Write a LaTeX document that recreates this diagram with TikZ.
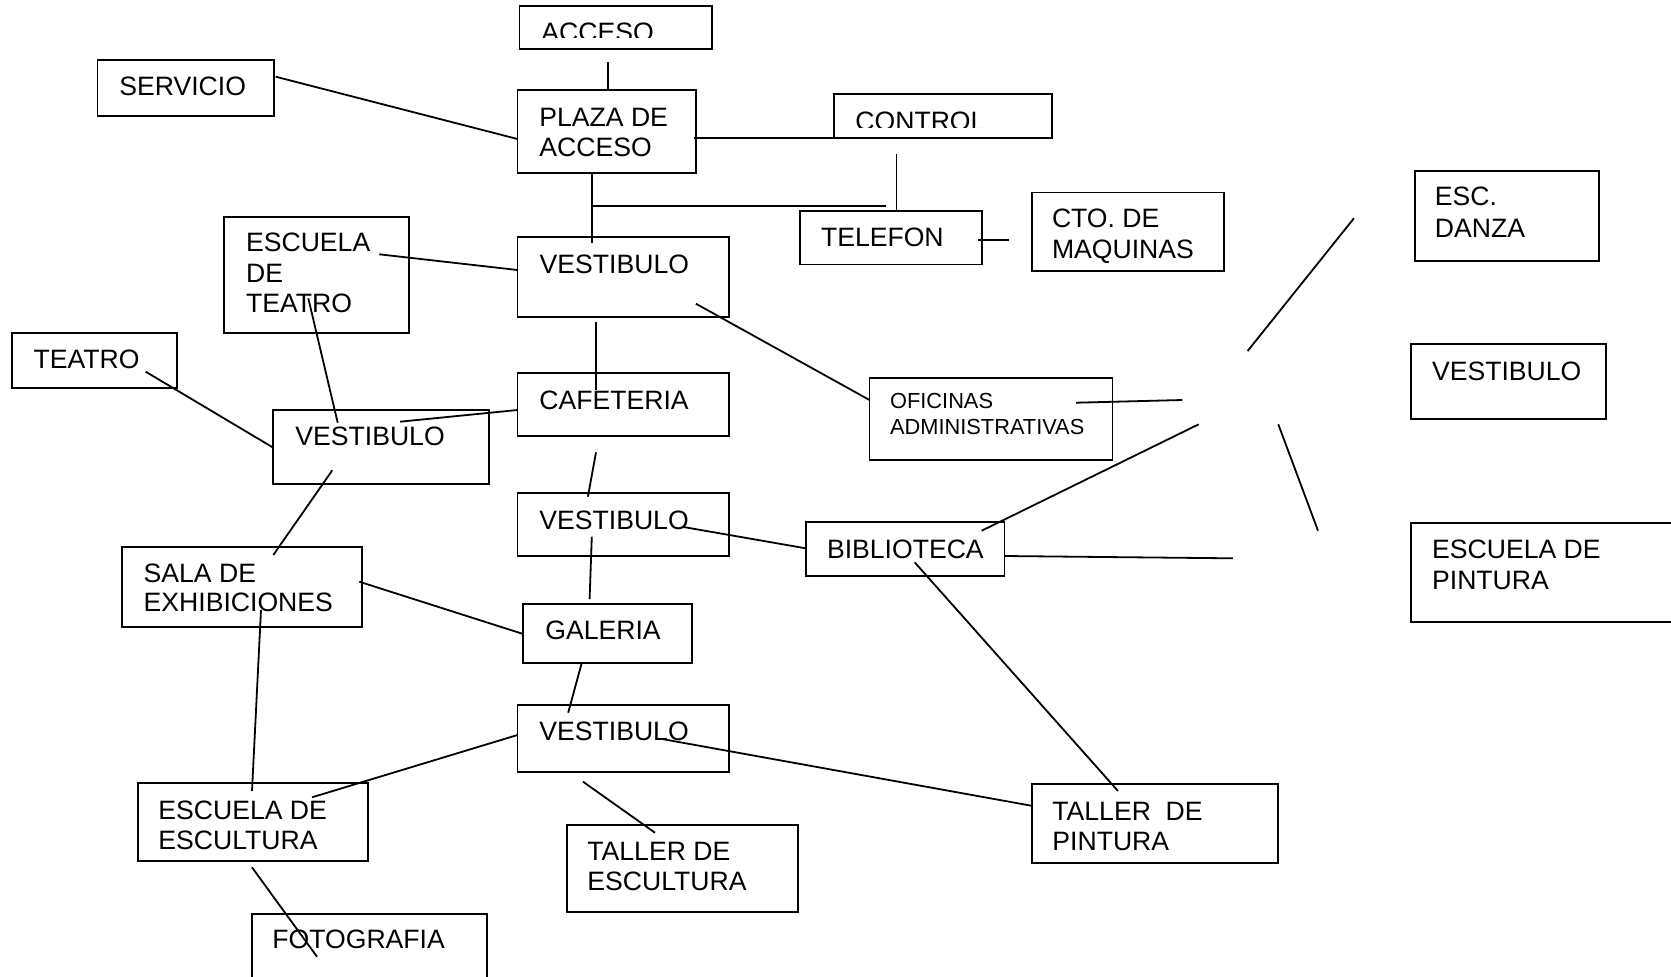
\documentclass[tikz,border=0pt]{standalone}
\usepackage{fontspec}
\setmainfont{Liberation Sans}
\usetikzlibrary{fit}
\tikzset{
  box/.style={draw, line width=0.9pt, inner sep=0pt, fit={#1}},
  txt/.style={anchor=base west, inner sep=0pt, font=\fontsize{13.3}{15}\selectfont},
  stxt/.style={anchor=base west, inner sep=0pt, font=\fontsize{10.9}{12.5}\selectfont},
  conn/.style={line width=0.9pt}
}
\begin{document}
\begin{tikzpicture}[x=0.5pt,y=-0.5pt]
\useasboundingbox (0,0) rectangle (1671,976);
\clip (0,0) rectangle (1671,976);
% ---------- boxes ----------
\node[box={(519.5,6) (712.3,49)}] (acc) {};
\node[box={(517.5,90) (696.2,172.7)}] (plaza) {};
\node[box={(97.5,60) (274.3,115.7)}] (serv) {};
\node[box={(834,94.3) (1052,138.3)}] (ctrl) {};
\node[box={(800,210.7) (982,264.5)}] (tel) {};
\node[box={(1031.7,192.5) (1224.3,270.7)}] (cto) {};
\node[box={(1414.7,170.7) (1599.3,261)}] (danza) {};
\node[box={(517.5,237.3) (729,316.7)}] (vesta) {};
\node[box={(224,216.7) (408.7,333.3)}] (esct) {};
\node[box={(11.7,333.3) (176.7,387.7)}] (teatro) {};
\node[box={(273.3,409.7) (488.7,483.7)}] (vestb) {};
\node[box={(517.5,373.3) (729,435.7)}] (cafe) {};
\node[box={(869.5,378.3) (1112.4,459.7)}] (ofic) {};
\node[box={(517.5,493.3) (729,555.7)}] (vestc) {};
\node[box={(805.7,522) (1004.4,575.7)}] (biblio) {};
\node[box={(523.2,604.3) (692.1,662.7)}] (galeria) {};
\node[box={(121.7,546.7) (362.3,626.7)}] (sala) {};
\node[box={(517.5,705.3) (729,771.7)}] (vestd) {};
\node[box={(138,783.3) (368,861)}] (escul) {};
\node[box={(567,825) (798,911.7)}] (tesc) {};
\node[box={(1032,784.3) (1278,862.7)}] (tpint) {};
\node[box={(252,914) (487,1000)}] (foto) {};
\node[box={(1410.7,344.3) (1605.6,418.7)}] (vestr) {};
\node[box={(1410.7,523.3) (1690,621.7)}] (pintr) {};
% ---------- texts ----------
\begin{scope}
  \clip (500,0) rectangle (720,37.3);
  \node[txt] (accT) at (541,41.6) {ACCESO};
\end{scope}
\begin{scope}
  \clip (840,100) rectangle (1045,127.7);
  \node[txt] (ctrlT) at (855,130) {CONTROL};
\end{scope}
\node[txt] (plazaT1) at (539,126.7) {PLAZA DE};
\node[txt] (plazaT2) at (539,156.7) {ACCESO};
\node[txt] (servT) at (119,95.7) {SERVICIO};
\node[txt] (telT) at (820.6,246) {TELEFON};
\node[txt] (ctoT1) at (1051.6,227.7) {CTO. DE};
\node[txt] (ctoT2) at (1051.6,258.5) {MAQUINAS};
\node[txt] (danzaT1) at (1434.5,205.7) {ESC.};
\node[txt] (danzaT2) at (1434.5,237.3) {DANZA};
\node[txt] (vestaT) at (539.3,273) {VESTIBULO};
\node[txt] (esctT1) at (245.7,251.7) {ESCUELA};
\node[txt] (esctT2) at (245.7,282.3) {DE};
\node[txt] (esctT3) at (245.7,312.7) {TEATRO};
\node[txt] (teatroT) at (33.3,368.3) {TEATRO};
\node[txt] (vestbT) at (295,445) {VESTIBULO};
\node[txt] (cafeT) at (539,409) {CAFETERIA};
\node[stxt] (oficT1) at (889.7,408.3) {OFICINAS};
\node[stxt] (oficT2) at (889.7,434) {ADMINISTRATIVAS};
\node[txt] (vestcT) at (539,529) {VESTIBULO};
\node[txt] (biblioT) at (826.6,558.3) {BIBLIOTECA};
\node[txt] (galeriaT) at (545,639) {GALERIA};
\node[txt] (salaT1) at (143.3,582.7) {SALA DE};
\node[txt] (salaT2) at (143.3,611.7) {EXHIBICIONES};
\node[txt] (vestdT) at (539,740) {VESTIBULO};
\node[txt] (esculT1) at (158,819.3) {ESCUELA DE};
\node[txt] (esculT2) at (158,849.3) {ESCULTURA};
\node[txt] (tescT1) at (587,860.7) {TALLER DE};
\node[txt] (tescT2) at (587,890.7) {ESCULTURA};
\node[txt] (tpintT1) at (1052,820) {TALLER\ \ DE};
\node[txt] (tpintT2) at (1052,850) {PINTURA};
\node[txt] (fotoT) at (272,948.3) {FOTOGRAFIA};
\node[txt] (vestrT) at (1431.7,380.7) {VESTIBULO};
\node[txt] (pintrT1) at (1431.7,558.3) {ESCUELA DE};
\node[txt] (pintrT2) at (1431.7,589.3) {PINTURA};
% ---------- connector end points ----------
\coordinate (a1) at (608.2,61.7);   \coordinate (a2) at (608.2,90);
\coordinate (b1) at (275.7,76.7);   \coordinate (b2) at (517.5,139);
\coordinate (c1) at (693.5,137.7);  \coordinate (c2) at (834,137.7);
\coordinate (d1) at (896.4,154);    \coordinate (d2) at (896.4,210.7);
\coordinate (e1) at (592,172.7);    \coordinate (e2) at (592,242.7);
\coordinate (f1) at (592,206);      \coordinate (f2) at (886.4,206);
\coordinate (g1) at (977.5,240);    \coordinate (g2) at (1009,240);
\coordinate (h1) at (379.3,254.3);  \coordinate (h2) at (517.5,270);
\coordinate (i1) at (308.3,298.3);  \coordinate (i2) at (337.7,422.7);
\coordinate (j1) at (145.7,371.7);  \coordinate (j2) at (273.3,447.7);
\coordinate (k1) at (400,421.7);    \coordinate (k2) at (517.5,410);
\coordinate (l1) at (596,321.8);    \coordinate (l2) at (596,390);
\coordinate (m1) at (695.9,303.7);  \coordinate (m2) at (869.5,400);
\coordinate (n1) at (1076,402.7);   \coordinate (n2) at (1182.3,400);
\coordinate (o1) at (1353.9,218.3); \coordinate (o2) at (1247.6,351);
\coordinate (p1) at (981.7,530.7);  \coordinate (p2) at (1198.7,424.3);
\coordinate (q1) at (1278.3,424.3); \coordinate (q2) at (1318,530.7);
\coordinate (r1) at (1004.4,556);   \coordinate (r2) at (1232.8,558.3);
\coordinate (s1) at (596,452.3);    \coordinate (s2) at (587.9,496.7);
\coordinate (t1) at (681.8,526.7);  \coordinate (t2) at (805.7,548.3);
\coordinate (u1) at (591.8,536.7);  \coordinate (u2) at (589.6,599);
\coordinate (v1) at (332.3,470.3);  \coordinate (v2) at (273.3,555);
\coordinate (w1) at (359.3,581.7);  \coordinate (w2) at (523.2,634);
\coordinate (x1) at (261,610);      \coordinate (x2) at (252,791);
\coordinate (y1) at (581.8,662.7);  \coordinate (y2) at (568.2,712.7);
\coordinate (z1) at (517.5,735);    \coordinate (z2) at (312,797.3);
\coordinate (aa1) at (662,739);     \coordinate (aa2) at (1033,806);
\coordinate (bb1) at (583,781.7);   \coordinate (bb2) at (655,832.7);
\coordinate (cc1) at (914.7,562.3); \coordinate (cc2) at (1118,791);
\coordinate (dd1) at (252,867.3);   \coordinate (dd2) at (317,956.7);
% ---------- connectors ----------
\foreach \p in {a,b,c,d,e,f,g,h,i,j,k,l,m,n,o,p,q,r,s,t,u,v,w,x,y,z,aa,bb,cc,dd}
  \draw[conn] (\p1) -- (\p2);
\end{tikzpicture}
\end{document}
